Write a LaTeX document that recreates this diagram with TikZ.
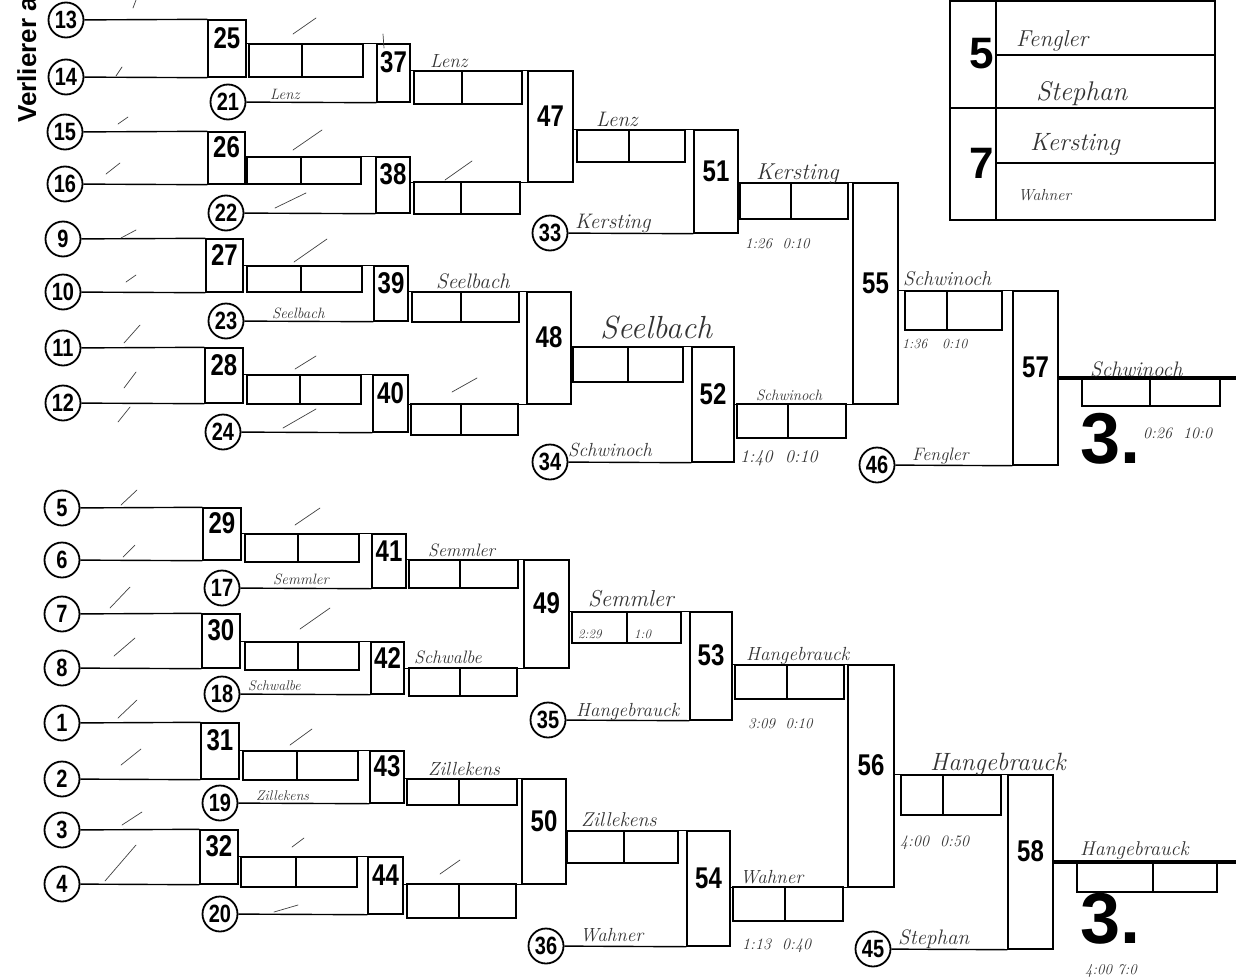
\documentclass[tikz,border=0pt]{standalone}
\usepackage{fontspec}
\usepackage{graphicx}
\newfontfamily\numfont{Liberation Sans}
\usetikzlibrary{fit}
\newcommand{\cn}[1]{\scalebox{0.8}[1]{#1}}
\tikzset{
  seed/.style={circle, draw, line width=1.8pt, minimum size=35pt, inner sep=0pt,
    font=\numfont\bfseries\fontsize{25}{25}\selectfont},
  matchbox/.style={draw, line width=1.4pt, inner sep=0pt,
    font=\numfont\bfseries\fontsize{30}{30}\selectfont},
  link/.style={line width=1.4pt},
  final/.style={line width=3.5pt},
  scorebox/.style={line width=1.2pt},
  hand/.style={anchor=base west, inner sep=0pt, text=black!80,
    font=\itshape\fontsize{#1}{#1}\selectfont},
  hand/.default=17,
  tick/.style={line width=0.7pt, black!75, line cap=round},
  bignum/.style={inner sep=0pt, font=\numfont\bfseries\fontsize{#1}{#1}\selectfont},
}
\begin{document}
\begin{tikzpicture}[x=1pt, y=-1pt]
\useasboundingbox (0,0) rectangle (1236,977);

% side label
\begin{scope}
\clip (0,0) rectangle (60,130);
\node[rotate=90, anchor=base west, bignum=26] (title) at (36,123) {Verlierer a};
\end{scope}

% upper half, first round
\node[seed] (s13) at (66,20) {\cn{13}};
\node[seed] (s14) at (66,77) {\cn{14}};
\node[matchbox, fit={(208,20) (246,77)}] (m25) {\cn{25}};
\draw[link] (s13) -- (m25.north west);
\draw[link] (s14) -- (m25.south west);

\node[seed] (s15) at (65,132) {\cn{15}};
\node[seed] (s16) at (65,184) {\cn{16}};
\node[matchbox, fit={(208,132) (245,184)}] (m26) {\cn{26}};
\draw[link] (s15) -- (m26.north west);
\draw[link] (s16) -- (m26.south west);

\node[seed] (s9) at (63,239) {\cn{9}};
\node[seed] (s10) at (63,292) {\cn{10}};
\node[matchbox, fit={(206,239) (243,292)}] (m27) {\cn{27}};
\draw[link] (s9) -- (m27.north west);
\draw[link] (s10) -- (m27.south west);

\node[seed] (s11) at (63,348) {\cn{11}};
\node[seed] (s12) at (63,403) {\cn{12}};
\node[matchbox, fit={(205,348) (243,403)}] (m28) {\cn{28}};
\draw[link] (s11) -- (m28.north west);
\draw[link] (s12) -- (m28.south west);

% upper half, second round
\node[seed] (s21) at (228,102) {\cn{21}};
\node[matchbox, fit={(377,44) (410,102)}] (m37) {\cn{37}};
\draw[link] (m25.east |- m37.north west) -- (m37.north west);
\draw[link] (s21) -- (m37.south west);
\draw[scorebox] (249,44) rectangle (363,77) (302,44) -- (302,77);

\node[seed] (s22) at (226,213) {\cn{22}};
\node[matchbox, fit={(376,157) (410,213)}] (m38) {\cn{38}};
\draw[link] (m26.east |- m38.north west) -- (m38.north west);
\draw[link] (s22) -- (m38.south west);
\draw[scorebox] (247,157) rectangle (361,184) (301,157) -- (301,184);

\node[seed] (s23) at (226,321) {\cn{23}};
\node[matchbox, fit={(374,266) (408,321)}] (m39) {\cn{39}};
\draw[link] (m27.east |- m39.north west) -- (m39.north west);
\draw[link] (s23) -- (m39.south west);
\draw[scorebox] (247,266) rectangle (362,292) (301,266) -- (301,292);

\node[seed] (s24) at (223,432) {\cn{24}};
\node[matchbox, fit={(373,375) (408,432)}] (m40) {\cn{40}};
\draw[link] (m28.east |- m40.north west) -- (m40.north west);
\draw[link] (s24) -- (m40.south west);
\draw[scorebox] (247,375) rectangle (361,404) (300,375) -- (300,404);

% upper half, third round
\node[matchbox, fit={(528,71) (573,182)}] (m47) {\cn{47}};
\draw[link] (m37.east |- m47.north west) -- (m47.north west);
\draw[link] (m38.east |- m47.south west) -- (m47.south west);
\draw[scorebox] (414,71) rectangle (522,104) (462,71) -- (462,104);
\draw[scorebox] (414,182) rectangle (520,214) (461,182) -- (461,214);

\node[matchbox, fit={(527,292) (571,404)}] (m48) {\cn{48}};
\draw[link] (m39.east |- m48.north west) -- (m48.north west);
\draw[link] (m40.east |- m48.south west) -- (m48.south west);
\draw[scorebox] (412,292) rectangle (519,322) (461,292) -- (461,322);
\draw[scorebox] (411,404) rectangle (518,435) (461,404) -- (461,435);

% upper half, fourth round
\node[seed] (s33) at (550,233) {\cn{33}};
\node[matchbox, fit={(694,130) (738,233)}] (m51) {\cn{51}};
\draw[link] (m47.east |- m51.north west) -- (m51.north west);
\draw[link] (s33) -- (m51.south west);
\draw[scorebox] (577,130) rectangle (685,162) (629,130) -- (629,162);

\node[seed] (s34) at (550,462) {\cn{34}};
\node[matchbox, fit={(692,347) (734,462)}] (m52) {\cn{52}};
\draw[link] (m48.east |- m52.north west) -- (m52.north west);
\draw[link] (s34) -- (m52.south west);
\draw[scorebox] (573,347) rectangle (683,382) (628,347) -- (628,382);

% upper half, fifth and sixth round
\node[matchbox, fit={(853,183) (898,404)}] (m55) {\cn{55}};
\draw[link] (m51.east |- m55.north west) -- (m55.north west);
\draw[link] (m52.east |- m55.south west) -- (m55.south west);
\draw[scorebox] (740,183) rectangle (848,219) (791,183) -- (791,219);
\draw[scorebox] (737,404) rectangle (846,438) (788,404) -- (788,438);

\node[seed] (s46) at (877,465) {\cn{46}};
\node[matchbox, fit={(1013,291) (1058,465)}] (m57) {\cn{57}};
\draw[link] (m55.east |- m57.north west) -- (m57.north west);
\draw[link] (s46) -- (m57.south west);
\draw[scorebox] (905,291) rectangle (1002,330) (947,291) -- (947,330);

\coordinate (end57) at (1236,378);
\draw[final] (m57.east) -- (end57);
\draw[scorebox] (1082,378) rectangle (1220,406) (1150,378) -- (1150,406);
\node[bignum=72, anchor=base west] (place57) at (1080,463) {\raisebox{0pt}[\height][0pt]{3.}};

% lower half, first round
\node[seed] (s5) at (62,508) {\cn{5}};
\node[seed] (s6) at (62,560) {\cn{6}};
\node[matchbox, fit={(203,508) (241,560)}] (m29) {\cn{29}};
\draw[link] (s5) -- (m29.north west);
\draw[link] (s6) -- (m29.south west);

\node[seed] (s7) at (62,614) {\cn{7}};
\node[seed] (s8) at (62,668) {\cn{8}};
\node[matchbox, fit={(202,614) (240,668)}] (m30) {\cn{30}};
\draw[link] (s7) -- (m30.north west);
\draw[link] (s8) -- (m30.south west);

\node[seed] (s1) at (62,723) {\cn{1}};
\node[seed] (s2) at (62,779) {\cn{2}};
\node[matchbox, fit={(201,723) (239,779)}] (m31) {\cn{31}};
\draw[link] (s1) -- (m31.north west);
\draw[link] (s2) -- (m31.south west);

\node[seed] (s3) at (62,830) {\cn{3}};
\node[seed] (s4) at (62,884) {\cn{4}};
\node[matchbox, fit={(200,830) (238,884)}] (m32) {\cn{32}};
\draw[link] (s3) -- (m32.north west);
\draw[link] (s4) -- (m32.south west);

% lower half, second round
\node[seed] (s17) at (222,588) {\cn{17}};
\node[matchbox, fit={(372,534) (406,588)}] (m41) {\cn{41}};
\draw[link] (m29.east |- m41.north west) -- (m41.north west);
\draw[link] (s17) -- (m41.south west);
\draw[scorebox] (245,534) rectangle (359,562) (298,534) -- (298,562);

\node[seed] (s18) at (222,694) {\cn{18}};
\node[matchbox, fit={(371,642) (404,694)}] (m42) {\cn{42}};
\draw[link] (m30.east |- m42.north west) -- (m42.north west);
\draw[link] (s18) -- (m42.south west);
\draw[scorebox] (245,642) rectangle (359,670) (298,642) -- (298,670);

\node[seed] (s19) at (220,803) {\cn{19}};
\node[matchbox, fit={(370,751) (404,803)}] (m43) {\cn{43}};
\draw[link] (m31.east |- m43.north west) -- (m43.north west);
\draw[link] (s19) -- (m43.south west);
\draw[scorebox] (243,751) rectangle (358,780) (297,751) -- (297,780);

\node[seed] (s20) at (220,914) {\cn{20}};
\node[matchbox, fit={(368,857) (403,914)}] (m44) {\cn{44}};
\draw[link] (m32.east |- m44.north west) -- (m44.north west);
\draw[link] (s20) -- (m44.south west);
\draw[scorebox] (241,857) rectangle (357,887) (296,857) -- (296,887);

% lower half, third round
\node[matchbox, fit={(524,560) (569,668)}] (m49) {\cn{49}};
\draw[link] (m41.east |- m49.north west) -- (m49.north west);
\draw[link] (m42.east |- m49.south west) -- (m49.south west);
\draw[scorebox] (409,560) rectangle (518,588) (460,560) -- (460,588);
\draw[scorebox] (409,668) rectangle (517,696) (460,668) -- (460,696);

\node[matchbox, fit={(522,779) (566,884)}] (m50) {\cn{50}};
\draw[link] (m43.east |- m50.north west) -- (m50.north west);
\draw[link] (m44.east |- m50.south west) -- (m50.south west);
\draw[scorebox] (407,779) rectangle (517,805) (459,779) -- (459,805);
\draw[scorebox] (407,884) rectangle (516,918) (459,884) -- (459,918);

% lower half, fourth round
\node[seed] (s35) at (548,720) {\cn{35}};
\node[matchbox, fit={(690,612) (732,720)}] (m53) {\cn{53}};
\draw[link] (m49.east |- m53.north west) -- (m53.north west);
\draw[link] (s35) -- (m53.south west);
\draw[scorebox] (572,612) rectangle (681,643) (627,612) -- (627,643);

\node[seed] (s36) at (546,946) {\cn{36}};
\node[matchbox, fit={(687,831) (730,946)}] (m54) {\cn{54}};
\draw[link] (m50.east |- m54.north west) -- (m54.north west);
\draw[link] (s36) -- (m54.south west);
\draw[scorebox] (567,831) rectangle (678,863) (624,831) -- (624,863);

% lower half, fifth and sixth round
\node[matchbox, fit={(848,665) (894,887)}] (m56) {\cn{56}};
\draw[link] (m53.east |- m56.north west) -- (m56.north west);
\draw[link] (m54.east |- m56.south west) -- (m56.south west);
\draw[scorebox] (735,665) rectangle (844,699) (787,665) -- (787,699);
\draw[scorebox] (733,887) rectangle (843,921) (785,887) -- (785,921);

\node[seed] (s45) at (873,949) {\cn{45}};
\node[matchbox, fit={(1008,775) (1053,949)}] (m58) {\cn{58}};
\draw[link] (m56.east |- m58.north west) -- (m58.north west);
\draw[link] (s45) -- (m58.south west);
\draw[scorebox] (901,775) rectangle (1001,815) (943,775) -- (943,815);

\coordinate (end58) at (1236,862);
\draw[final] (m58.east) -- (end58);
\draw[scorebox] (1077,862) rectangle (1217,892) (1153,862) -- (1153,892);
\node[bignum=72, anchor=base west] (place58) at (1080,943) {\raisebox{0pt}[\height][0pt]{3.}};

% places table
\draw[link] (950,1) rectangle (1215,220);
\draw[link] (996,1) -- (996,220);
\draw[link] (950,108) -- (1215,108);
\draw[link] (996,55) -- (1215,55) (996,163) -- (1215,163);
\node[bignum=44] (row5) at (982,54) {5};
\node[bignum=44] (row7) at (982,163) {7};
\node[hand=23] (t5a) at (1016,46) {Fengler};
\node[hand=27] (t5b) at (1036,100) {Stephan};
\node[hand=25] (t7a) at (1030,150) {Kersting};
\node[hand=16] (t7b) at (1018,200) {Wahner};

% handwriting, upper half
\node[hand=15] (n21) at (270,99) {Lenz};
\node[hand=19] (n37) at (430,67) {Lenz};
\node[hand=21] (n47) at (596,126) {Lenz};
\node[hand=21] (n33) at (575,228) {Kersting};
\node[hand=23] (n51) at (756,179) {Kersting};
\node[hand=15] (t51) at (745,248) {1:26 \ 0:10};
\node[hand=15] (n23) at (272,318) {Seelbach};
\node[hand=21] (n39) at (436,288) {Seelbach};
\node[hand=32] (n48) at (600,338) {Seelbach};
\node[hand=19] (n34) at (568,456) {Schwinoch};
\node[hand=15] (n52) at (756,400) {Schwinoch};
\node[hand=18] (t52) at (740,462) {1:40 \ 0:10};
\node[hand=20] (n55) at (903,285) {Schwinoch};
\node[hand=14] (t55) at (902,348) {1:36 \ \ 0:10};
\node[hand=18] (n46) at (912,460) {Fengler};
\node[hand=21] (n57) at (1090,376) {Schwinoch};
\node[hand=16] (t57) at (1143,438) {0:26 \ 10:0};

% handwriting, lower half
\node[hand=15] (n17) at (273,584) {Semmler};
\node[hand=18] (n41) at (428,556) {Semmler};
\node[hand=23] (n49) at (588,606) {Semmler};
\node[hand=13] (t49a) at (578,638) {2:29};
\node[hand=13] (t49b) at (634,638) {1:0};
\node[hand=14] (n18) at (248,690) {Schwalbe};
\node[hand=18] (n42) at (414,663) {Schwalbe};
\node[hand=19] (n35) at (576,716) {Hangebrauck};
\node[hand=19] (n53) at (746,660) {Hangebrauck};
\node[hand=15] (t53) at (748,728) {3:09 \ 0:10};
\node[hand=14] (n19) at (256,800) {Zillekens};
\node[hand=19] (n43) at (428,775) {Zillekens};
\node[hand=20] (n50) at (581,826) {Zillekens};
\node[hand=19] (n36) at (580,941) {Wahner};
\node[hand=19] (n54) at (740,883) {Wahner};
\node[hand=16] (t54) at (742,949) {1:13 \ 0:40};
\node[hand=25] (n56) at (930,770) {Hangebrauck};
\node[hand=16] (t56) at (900,846) {4:00 \ 0:50};
\node[hand=21] (n45) at (898,944) {Stephan};
\node[hand=20] (n58) at (1080,855) {Hangebrauck};
\node[hand=15] (t58) at (1085,974) {4:00 7:0};

% strokes for byes
\draw[tick] (133,8) -- (136,0);
\draw[tick] (293,34) -- (316,18);
\draw[tick] (383,34) -- (384,48);
\draw[tick] (116,76) -- (122,67);
\draw[tick] (118,124) -- (128,117);
\draw[tick] (106,174) -- (120,163);
\draw[tick] (275,208) -- (306,193);
\draw[tick] (293,150) -- (322,130);
\draw[tick] (121,238) -- (136,230);
\draw[tick] (445,180) -- (472,161);
\draw[tick] (294,262) -- (327,239);
\draw[tick] (126,282) -- (136,275);
\draw[tick] (124,343) -- (140,325);
\draw[tick] (124,388) -- (136,372);
\draw[tick] (118,422) -- (130,407);
\draw[tick] (295,369) -- (316,356);
\draw[tick] (283,428) -- (316,409);
\draw[tick] (452,392) -- (477,378);
\draw[tick] (121,505) -- (137,490);
\draw[tick] (295,525) -- (320,508);
\draw[tick] (123,557) -- (135,545);
\draw[tick] (110,608) -- (130,587);
\draw[tick] (300,629) -- (330,608);
\draw[tick] (114,656) -- (135,638);
\draw[tick] (118,718) -- (137,700);
\draw[tick] (121,765) -- (141,749);
\draw[tick] (290,745) -- (312,729);
\draw[tick] (122,825) -- (142,812);
\draw[tick] (105,881) -- (136,845);
\draw[tick] (292,847) -- (304,838);
\draw[tick] (274,912) -- (298,905);
\draw[tick] (440,874) -- (460,860);

\end{tikzpicture}
\end{document}
